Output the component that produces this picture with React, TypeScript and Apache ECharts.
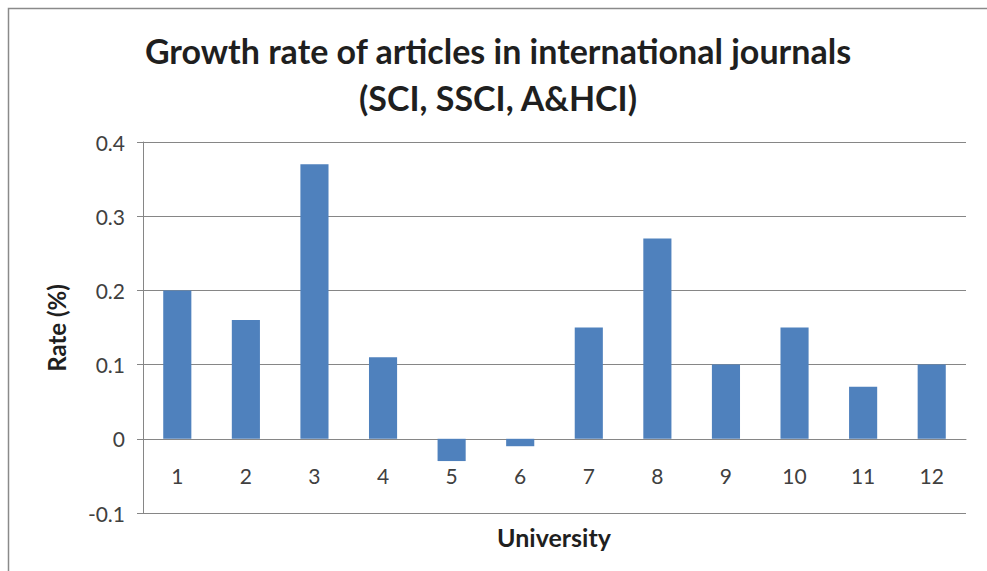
import React, { useEffect, useRef } from "react";
import * as echarts from "echarts";

const categories = ["1", "2", "3", "4", "5", "6", "7", "8", "9", "10", "11", "12"];
const rates = [0.2, 0.16, 0.37, 0.11, -0.03, -0.01, 0.15, 0.27, 0.1, 0.15, 0.07, 0.1];
const titleLine1 = "Growth rate of articles in international journals";
const titleLine2 = "(SCI, SSCI, A&HCI)";
const yName = "Rate (%)";
const xName = "University";
const yMin = -0.1;
const yMax = 0.4;
const yStep = 0.1;

const FONT = "Lato, 'Open Sans', sans-serif";
const GRID_TOP = 142;
const GRID_BOTTOM = 58;
const HEIGHT = 571;

export default function App() {
  const ref = useRef<HTMLDivElement>(null);
  useEffect(() => {
    if (!ref.current) return;
    const chart = echarts.init(ref.current, null, { renderer: "svg" });
    const gridH = HEIGHT - GRID_TOP - GRID_BOTTOM;
    const zeroOffset = (gridH * (0 - yMin)) / (yMax - yMin);
    chart.setOption({
      animation: false,
      backgroundColor: "#ffffff",
      textStyle: { fontFamily: FONT },
      grid: { left: 143, top: GRID_TOP, right: 21, bottom: GRID_BOTTOM, containLabel: false },
      graphic: [
        {
          type: "rect",
          shape: { x: 8.5, y: 8.5, width: 1000, height: 600 },
          style: { fill: "none", stroke: "#8a8a8a", lineWidth: 1.5 },
          z: 100,
        },
        {
          type: "text",
          x: 498,
          y: 50,
          style: {
            text: titleLine1,
            textAlign: "center",
            textVerticalAlign: "middle",
            font: `bold 34px ${FONT}`,
            fill: "#1f1f1f",
          },
        },
        {
          type: "text",
          x: 498,
          y: 97,
          style: {
            text: titleLine2,
            textAlign: "center",
            textVerticalAlign: "middle",
            font: `bold 34px ${FONT}`,
            fill: "#1f1f1f",
          },
        },
        {
          type: "text",
          x: 56,
          y: 328,
          rotation: Math.PI / 2,
          style: {
            text: yName,
            textAlign: "center",
            textVerticalAlign: "middle",
            font: `bold 24px ${FONT}`,
            fill: "#1f1f1f",
          },
        },
        {
          type: "text",
          x: 554,
          y: 537,
          style: {
            text: xName,
            textAlign: "center",
            textVerticalAlign: "middle",
            font: `bold 25px ${FONT}`,
            fill: "#1f1f1f",
          },
        },
      ],
      xAxis: {
        type: "category",
        data: categories,
        offset: -zeroOffset,
        axisLine: { onZero: false, lineStyle: { color: "#868686", width: 1 } },
        axisTick: { show: false },
        axisLabel: { color: "#404040", fontSize: 21, margin: 26, fontFamily: FONT },
        splitLine: { show: false },
      },
      yAxis: {
        type: "value",
        min: yMin,
        max: yMax,
        interval: yStep,
        axisLine: { show: true, lineStyle: { color: "#868686", width: 1 } },
        axisTick: { show: true, length: 6, lineStyle: { color: "#868686" } },
        axisLabel: {
          color: "#404040",
          fontSize: 21,
          margin: 18,
          fontFamily: FONT,
          formatter: (v: number) => String(Math.round(v * 10) / 10),
        },
        splitLine: { show: true, lineStyle: { color: "#868686", width: 1 } },
      },
      series: [
        {
          type: "bar",
          data: rates,
          barWidth: "41%",
          itemStyle: { color: "#4f81bd" },
        },
      ],
    });
    return () => chart.dispose();
  }, []);
  return (
    <div
      ref={ref}
      style={{ position: "fixed", left: 0, top: 0, width: 987, height: 571 }}
    />
  );
}
